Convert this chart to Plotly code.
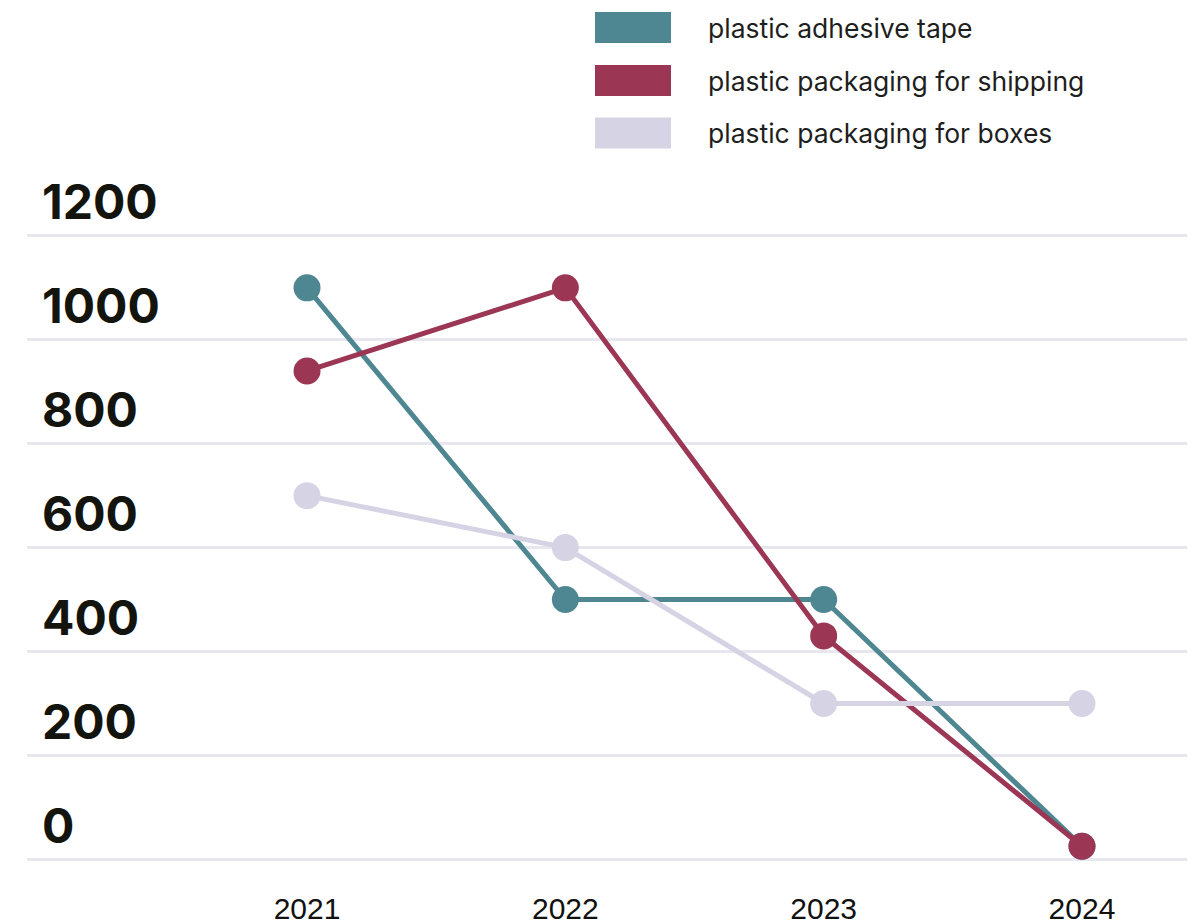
import plotly.graph_objects as go

years = ["2021", "2022", "2023", "2024"]
adhesive_tape = [1100, 500, 500, 25]
packaging_shipping = [940, 1100, 430, 25]
packaging_boxes = [700, 600, 300, 300]
series_names = ["plastic adhesive tape", "plastic packaging for shipping", "plastic packaging for boxes"]
series_colors = ["#4e8791", "#9b3654", "#d6d3e4"]
y_ticks = [0, 200, 400, 600, 800, 1000, 1200]

# layout geometry (screen px; page has 8px body margin)
PL, PR, PT, PB = 27, 1195, 140, 880
PW, PH = PR - PL, PB - PT
K = 0.5195      # px per unit
Y0 = 859.3      # pixel of value 0

fig = go.Figure()
for name, vals, col in zip(series_names, [adhesive_tape, packaging_shipping, packaging_boxes], series_colors):
    fig.add_trace(go.Scatter(
        x=list(range(len(years))), y=vals, name=name, mode="lines+markers",
        line=dict(color=col, width=5), marker=dict(color=col, size=27),
        showlegend=False, cliponaxis=False,
    ))

# custom legend (swatches + labels)
legend_y = [27.5, 80.5, 133]
for name, col, yc in zip(series_names, series_colors, legend_y):
    fig.add_shape(type="rect", xref="paper", yref="paper",
                  x0=(595 - PL) / PW, x1=(671 - PL) / PW,
                  y0=(PB - (yc + 15.5)) / PH, y1=(PB - (yc - 15.5)) / PH,
                  fillcolor=col, line=dict(width=0), layer="above")
    fig.add_annotation(xref="paper", yref="paper", x=(706 - PL) / PW, y=(PB - yc) / PH,
                       text=name, showarrow=False, xanchor="left", yanchor="middle",
                       font=dict(family="Inter, Noto Sans, sans-serif", size=26.5, color="#1e1e1e"))

fig.update_layout(
    width=1187, height=916,
    margin=dict(l=PL - 8, r=0, t=PT - 8, b=916 - (PB - 8)),
    paper_bgcolor="white", plot_bgcolor="white",
    xaxis=dict(
        range=[-1.084, 3.4375], tickvals=list(range(len(years))), ticktext=years,
        showgrid=False, zeroline=False, showline=False, ticks="", automargin=False,
        tickfont=dict(family="Liberation Sans Narrow, Liberation Sans, Arial, sans-serif", size=30, color="#111111"),
        ticklabelstandoff=8,
    ),
    yaxis=dict(
        range=[-(PB - Y0) / K, (Y0 - PT) / K], tickvals=y_ticks, automargin=False,
        showgrid=True, gridcolor="#e8e6ef", gridwidth=3, zeroline=False, showline=False,
        ticks="", ticklabelposition="inside top",
        tickfont=dict(family="Inter, sans-serif", size=48, color="#14140f", weight=700),
        ticklabelstandoff=12, ticklabelshift=0,
    ),
)

fig.write_html("out.html")
